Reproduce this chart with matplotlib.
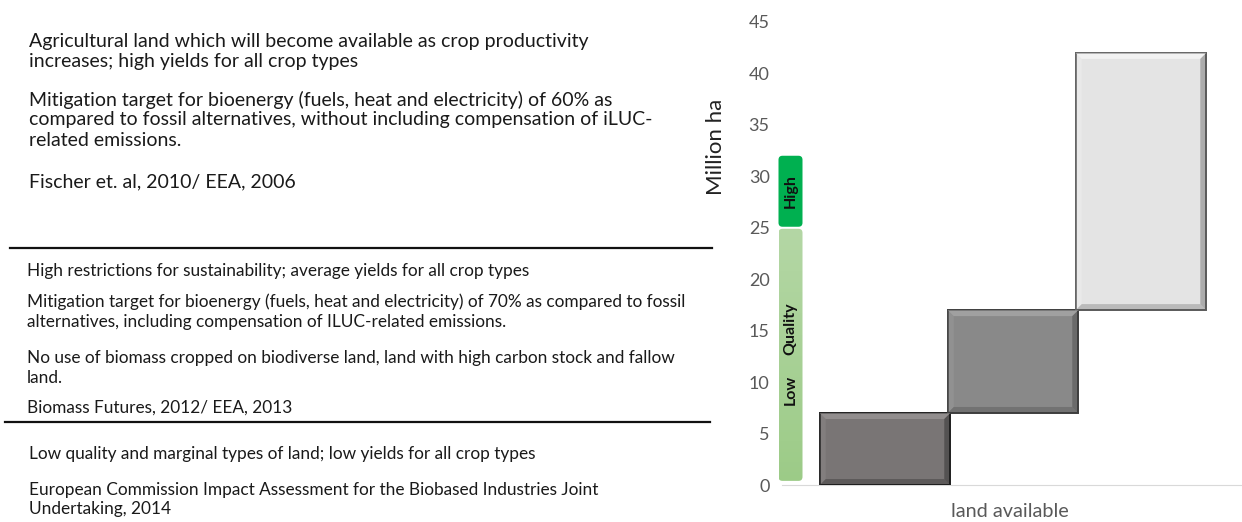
import matplotlib.pyplot as plt
import numpy as np
from matplotlib.patches import FancyBboxPatch, Polygon
from matplotlib.colors import LinearSegmentedColormap

plt.rcParams['font.family'] = ['Lato', 'DejaVu Sans']

# land available, stacked steps (Million ha)
scenarios = ['low quality land', 'high restrictions', 'high yields']
step_bottom = [0, 7, 17]
step_top = [7, 17, 42]
bar_colors = ['#797575', '#898989', '#e4e4e4']
edge_dark = ['#1e1e1e', '#3d3d3d', '#5a5a5a']
edge_light = ['#a8a4a4', '#b4b4b4', '#ffffff']

# quality band on the left
quality_low = [0, 25]
quality_high = [25, 32]

yticks = [0, 5, 10, 15, 20, 25, 30, 35, 40, 45]

W, H = 1242, 522
fig = plt.figure(figsize=(W / 100, H / 100), dpi=100)

def px(x, y):
    return x / W, 1 - y / H

# ---- left side text ----
big, small = 14.0, 12.4
blocks = [
    (29, 41, big, 'Agricultural land which will become available as crop productivity'),
    (29, 61, big, 'increases; high yields for all crop types'),
    (29, 100, big, 'Mitigation target for bioenergy (fuels, heat and electricity) of 60% as'),
    (29, 120, big, 'compared to fossil alternatives, without including compensation of iLUC-'),
    (29, 140, big, 'related emissions.'),
    (29, 182, big, 'Fischer et. al, 2010/ EEA, 2006'),
    (27, 271, small, 'High restrictions for sustainability; average yields for all crop types'),
    (27, 302, small, 'Mitigation target for bioenergy (fuels, heat and electricity) of 70% as compared to fossil'),
    (27, 322, small, 'alternatives, including compensation of ILUC-related emissions.'),
    (27, 358, small, 'No use of biomass cropped on biodiverse land, land with high carbon stock and fallow'),
    (27, 378, small, 'land.'),
    (27, 408, small, 'Biomass Futures, 2012/ EEA, 2013'),
    (29, 454, small, 'Low quality and marginal types of land; low yields for all crop types'),
    (29, 490, small, 'European Commission Impact Assessment for the Biobased Industries Joint'),
    (29, 509, small, 'Undertaking, 2014'),
]
for x, y, fs, s in blocks:
    fx, fy = px(x, y)
    fig.text(fx, fy, s, fontsize=fs, color='#1a1a1a', va='center', ha='left')

for x0, x1, y in [(10, 712, 248), (5, 710, 422)]:
    a, b = px(x0, y)
    c, _ = px(x1, y)
    fig.add_artist(plt.Line2D([a, c], [b, b], color='#111111', lw=1.6))

# ---- chart ----
ax_left, ax_bottom, ax_top = 778, 485, 22
ax = fig.add_axes([ax_left / W, (H - ax_bottom) / H, (W - ax_left) / W, (ax_bottom - ax_top) / H])
unit = 128.0  # px per bar width
x0_center = (885 - ax_left) / unit
ax.set_xlim(-x0_center, (W - ax_left) / unit - x0_center)
ax.set_ylim(0, 45)
ypx = (ax_bottom - ax_top) / 45.0

pos = np.arange(len(scenarios))
ax.bar(pos, np.array(step_top) - np.array(step_bottom), bottom=step_bottom, width=1.02,
       color=bar_colors, edgecolor=edge_dark, linewidth=1.4, zorder=3)

# bevel look on the steps
bw = 6
for i in range(len(scenarios)):
    xl, xr = pos[i] - 0.51, pos[i] + 0.51
    yb, yt = step_bottom[i], step_top[i]
    dx, dy = bw / unit, bw / ypx
    ax.add_patch(Polygon([[xl, yt], [xr, yt], [xr - dx, yt - dy], [xl + dx, yt - dy]],
                         closed=True, color=edge_light[i], alpha=0.55, lw=0, zorder=4))
    ax.add_patch(Polygon([[xr, yt], [xr, yb], [xr - dx, yb + dy], [xr - dx, yt - dy]],
                         closed=True, color=edge_dark[i], alpha=0.4, lw=0, zorder=4))
    ax.add_patch(Polygon([[xl, yb], [xr, yb], [xr - dx, yb + dy], [xl + dx, yb + dy]],
                         closed=True, color=edge_dark[i], alpha=0.3, lw=0, zorder=4))
    ax.add_patch(Polygon([[xl, yb], [xl, yt], [xl + dx, yt - dy], [xl + dx, yb + dy]],
                         closed=True, color=edge_light[i], alpha=0.2, lw=0, zorder=4))

# quality band
qc = (790.5 - ax_left) / unit - x0_center
qw = 24 / unit
rs = 4 / unit
asp = (4 / ypx) / rs
low = FancyBboxPatch((qc - qw / 2, quality_low[0] + 0.4), qw, quality_low[1] - quality_low[0] - 0.5,
                     boxstyle=f'round,pad=0,rounding_size={rs}', mutation_aspect=asp,
                     facecolor='none', edgecolor='none', zorder=2)
ax.add_patch(low)
grad = np.linspace(0, 1, 100).reshape(-1, 1)
img = ax.imshow(grad, extent=[qc - qw / 2, qc + qw / 2, quality_low[0], quality_low[1]],
                origin='lower', aspect='auto',
                cmap=LinearSegmentedColormap.from_list('g', ['#9ccb87', '#b4d7a5']), zorder=2)
img.set_clip_path(low)
ax.add_patch(FancyBboxPatch((qc - qw / 2, quality_high[0] + 0.1), qw, quality_high[1] - quality_high[0] - 0.1,
                            boxstyle=f'round,pad=0,rounding_size={rs}', mutation_aspect=asp,
                            facecolor='#00b050', edgecolor='none', zorder=2))
lbl = dict(rotation=90, ha='center', va='center', fontsize=11.5, fontweight='bold',
           color='#111111', zorder=5)
ax.text(qc, 28.6, 'High', **lbl)
ax.text(qc, 15.2, 'Quality', **lbl)
ax.text(qc, 9.2, 'Low', **lbl)

for s in ['top', 'right', 'left']:
    ax.spines[s].set_visible(False)
ax.spines['bottom'].set_color('#d9d9d9')
ax.spines['bottom'].set_bounds((782 - ax_left) / unit - x0_center, ax.get_xlim()[1])
ax.set_yticks(yticks)
ax.tick_params(axis='y', length=0, labelsize=13, labelcolor='#595959', pad=6)
ax.set_xticks([])
ax.set_xlabel('land available', fontsize=14.3, color='#595959', labelpad=13)
fx, fy = px(716, 147)
fig.text(fx, fy, 'Million ha', rotation=90, ha='center', va='center', fontsize=16, color='#222222')

fig.savefig('out.png', dpi=100)
